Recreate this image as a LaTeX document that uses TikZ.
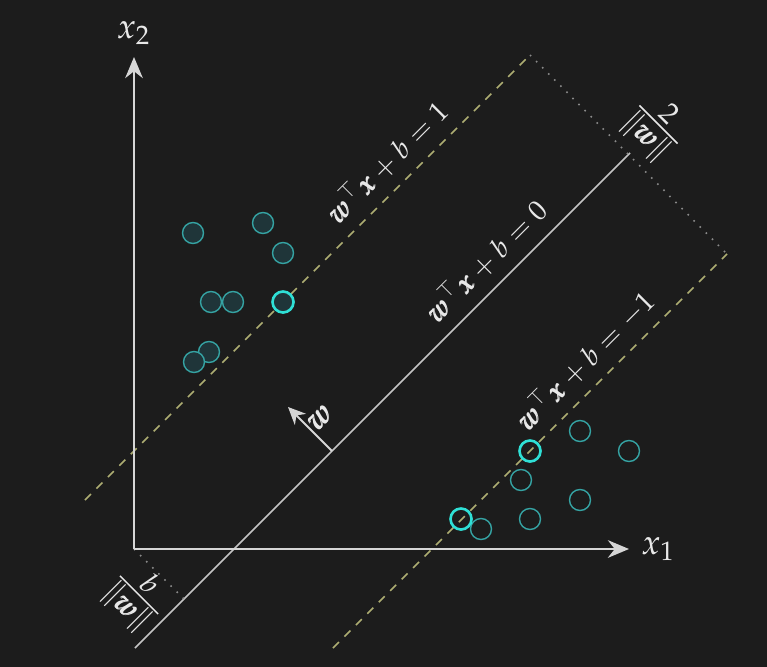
\documentclass[tikz,border=0pt]{standalone}
\usepackage{amsmath}
\usepackage{mathpazo}
\usetikzlibrary{arrows.meta}
\newcommand{\bvec}[1]{\pmb{#1}}
\definecolor{bgdark}{HTML}{1C1C1C}
\definecolor{axisgray}{HTML}{D6D6D6}
\definecolor{linegray}{HTML}{C4C4C4}
\definecolor{olive}{HTML}{ADAD72}
\definecolor{dotgray}{HTML}{8A8A8A}
\definecolor{tealline}{HTML}{35A3A3}
\definecolor{tealfill}{HTML}{1F3539}
\definecolor{cyanbright}{HTML}{2FE0D6}
\definecolor{labelwhite}{HTML}{E8E8E8}
\begin{document}
\begin{tikzpicture}[x=0.01cm,y=-0.01cm,
    every node/.style={text=labelwhite, font=\fontsize{10}{12}\selectfont},
    eqlabel/.style={font=\fontsize{8}{10}\selectfont, above, rotate=45},
    fraclabel/.style={font=\fontsize{11}{13}\selectfont, rotate=-45, inner sep=1pt},
    axis/.style={draw=axisgray, line width=0.7pt, -{Stealth[length=6pt,width=5pt]}},
    margin/.style={draw=olive, line width=0.45pt, dash pattern=on 2.4pt off 2.2pt},
    perp/.style={draw=dotgray, line width=0.45pt, dotted},
    pospt/.style={circle, draw=tealline, fill=tealfill, line width=0.4pt, minimum size=2.1mm, inner sep=0pt},
    negpt/.style={circle, draw=tealline, line width=0.4pt, minimum size=2.1mm, inner sep=0pt},
    support/.style={draw=cyanbright, line width=0.75pt}]

\fill[bgdark] (0,0) rectangle (767,667);
\useasboundingbox (0,0) rectangle (767,667);

\coordinate (O) at (134,549);
\coordinate (X) at (629,549);
\coordinate (Y) at (134,57);
\coordinate (F) at (184,599);

% hyperplane and margins
\coordinate (H0) at (135,648);
\coordinate (H1) at (630,153);
\coordinate (P0) at (85,500);
\coordinate (P1) at (530,55);
\coordinate (N0) at (333,648);
\coordinate (N1) at (727,254);

\draw[margin] (P0) -- (P1);
\draw[margin] (N0) -- (N1);
\draw[draw=linegray, line width=0.45pt] (H0) -- (H1);

\draw[perp] (P1) -- (N1);
\draw[perp] (O) -- (F);
\node[fraclabel] (gap) at (656,127) {$\frac{2}{\|\bvec{w}\|}$};
\node[fraclabel] (offset) at (137,597) {$\frac{b}{\|\bvec{w}\|}$};

\node[eqlabel] (eqp) at (405,180) {$\bvec{w}^{\top}\bvec{x}+b=1$};
\node[eqlabel] (eqh) at (504,279) {$\bvec{w}^{\top}\bvec{x}+b=0$};
\node[eqlabel] (eqn) at (603,378) {$\bvec{w}^{\top}\bvec{x}+b=-1$};

\coordinate (W0) at (332,451);
\coordinate (W1) at (288,407);
\draw[draw=axisgray, line width=0.55pt, -{Stealth[length=5pt,width=4.5pt]}] (W0) -- (W1)
    node[midway, right, rotate=45, inner sep=0.8pt, font=\fontsize{9}{11}\selectfont] {$\bvec{w}$};

% axes
\draw[axis] (O) -- (X);
\draw[axis] (O) -- (Y);
\node[right] (x1) at (X) {$x_1$};
\node[above] (x2) at (Y) {$x_2$};

% samples
\foreach \x/\y in {193/233, 263/223, 283/253, 211/302, 233/302, 209/352, 194/362}
    \node[pospt] at (\x,\y) {};
\node[pospt, support] (sp) at (283,302) {};

\foreach \x/\y in {580/431, 629/451, 521/480, 580/500, 530/519, 481/529}
    \node[negpt] at (\x,\y) {};
\node[negpt, support] (sn1) at (530,451) {};
\node[negpt, support] (sn2) at (461,519) {};

\end{tikzpicture}
\end{document}
